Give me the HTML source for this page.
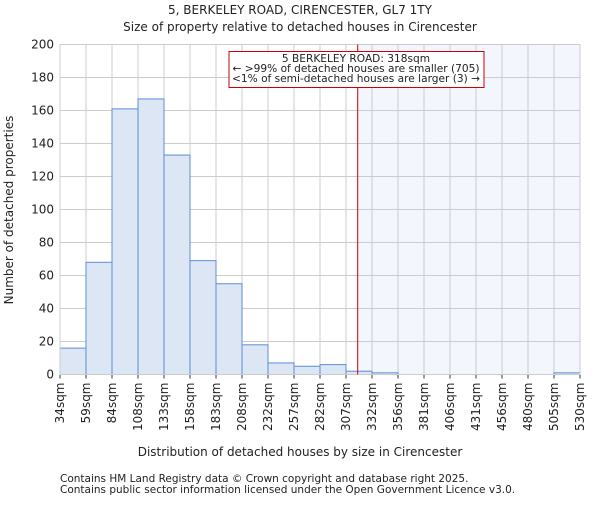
<!DOCTYPE html>
<html><head><meta charset="utf-8"><style>
body{margin:0;background:#fff;}
svg text{font-family:"DejaVu Sans","Liberation Sans",sans-serif;fill:#222;}
</style></head><body>
<svg id="chart" width="600" height="500" xmlns="http://www.w3.org/2000/svg">
<text x="300" y="14" text-anchor="middle" font-size="12">5, BERKELEY ROAD, CIRENCESTER, GL7 1TY</text>
<text x="300" y="31" text-anchor="middle" font-size="12">Size of property relative to detached houses in Cirencester</text>
<g id="plot"></g>
<text x="300" y="456" text-anchor="middle" font-size="12">Distribution of detached houses by size in Cirencester</text>
<text transform="translate(13,210) rotate(-90)" text-anchor="middle" font-size="12">Number of detached properties</text>
<text x="60" y="482" font-size="10.5">Contains HM Land Registry data © Crown copyright and database right 2025.</text>
<text x="60" y="493" font-size="10.5">Contains public sector information licensed under the Open Government Licence v3.0.</text>
</svg>
<script>
const binLabels=["34sqm","59sqm","84sqm","108sqm","133sqm","158sqm","183sqm","208sqm","232sqm","257sqm","282sqm","307sqm","332sqm","356sqm","381sqm","406sqm","431sqm","456sqm","480sqm","505sqm","530sqm"];
const counts=[16,68,161,167,133,69,55,18,7,5,6,2,1,0,0,0,0,0,0,1];
const yTicks=[0,20,40,60,80,100,120,140,160,180,200];
const markerBin=11.45;
const NS="http://www.w3.org/2000/svg";
const L=60,R=580,T=44.5,B=374.5,YMAX=200;
const bw=(R-L)/counts.length;
const xs=i=>L+i*bw;
const ys=v=>B-(v/YMAX)*(B-T);
const g=document.getElementById('plot');
function mk(t,a){const e=document.createElementNS(NS,t);for(const k in a)e.setAttribute(k,a[k]);g.appendChild(e);return e;}
const mx=xs(markerBin);
const sh=mk('rect',{x:mx,y:T,width:R-mx,height:B-T,fill:'#f3f6fd'});


yTicks.forEach(v=>{
 const l=mk('line',{x1:L,x2:R,y1:ys(v),y2:ys(v),stroke:'#ccc','stroke-width':1});
 
 
 const t=mk('text',{x:L-6,y:ys(v)+4,'text-anchor':'end','font-size':'12'});t.textContent=v;
 
 
});
binLabels.forEach((s,i)=>{
 const l=mk('line',{x1:xs(i),x2:xs(i),y1:T,y2:B,stroke:'#ccc','stroke-width':1});
 
 
 const tk=mk('line',{x1:xs(i),x2:xs(i),y1:B,y2:B+4,stroke:'#333'});
 
 
 const t=mk('text',{transform:`translate(${xs(i)+4},${B+8}) rotate(-90)`,'text-anchor':'end','font-size':'12'});t.textContent=s;
 
 
});
counts.forEach((c,i)=>{
 if(c<=0)return;
 const r=mk('rect',{x:xs(i),y:ys(c),width:bw,height:B-ys(c),fill:'#dce6f4',stroke:'#5b8ed6','stroke-width':1});
 
 
});
const ax=mk('rect',{x:L,y:T,width:R-L,height:B-T,fill:'none',stroke:'#ccc'});


const ml=mk('line',{x1:mx,x2:mx,y1:T,y2:B,stroke:'#cc0000','stroke-width':1});


const box=mk('rect',{x:229,y:51.5,width:255,height:36,fill:'#fff',stroke:'#cc0000'});


["5 BERKELEY ROAD: 318sqm","← >99% of detached houses are smaller (705)","<1% of semi-detached houses are larger (3) →"].forEach((s,i)=>{
 const t=mk('text',{x:356,y:62+i*10,'text-anchor':'middle','font-size':'10.6'});t.textContent=s;
 
 
});
</script>
</body></html>
